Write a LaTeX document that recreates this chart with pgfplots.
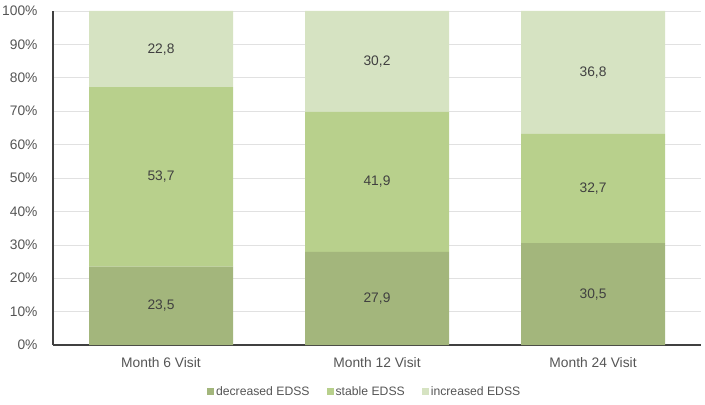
\documentclass[border=0pt]{standalone}
\usepackage{pgfplots}
\pgfplotsset{compat=1.18}
\usepackage{fontspec}
\setmainfont{Liberation Sans}

\definecolor{decr}{RGB}{163,182,124}
\definecolor{stab}{RGB}{184,208,140}
\definecolor{incr}{RGB}{214,227,194}
\definecolor{txtgray}{RGB}{85,85,85}
\definecolor{gridgray}{RGB}{225,225,225}
\tikzset{lbl/.style={font=\fontsize{13.8}{15}\selectfont, text=black!75}}

\begin{document}
\begin{tikzpicture}
\begin{axis}[
    scale only axis,
    width=648pt, height=334pt,
    ybar stacked,
    bar width=144pt,
    xmin=-0.5, xmax=2.5,
    ymin=0, ymax=100,
    xtick={0,1,2},
    xticklabels={Month 6 Visit, Month 12 Visit, Month 24 Visit},
    ytick={0,10,...,100},
    yticklabel={\pgfmathprintnumber{\tick}\%},
    axis lines*=left,
    axis line style={draw=black!75, line width=1.3pt},
    ymajorgrids,
    grid style={gridgray, line width=0.6pt},
    major tick length=0pt,
    tick label style={font=\fontsize{13.8}{15}\selectfont, text=txtgray},
    /pgf/number format/assume math mode=true,
    yticklabel style={xshift=-12pt},
    xticklabel style={yshift=-9pt},
    legend style={at={(0.481,-0.112)}, anchor=north, legend columns=3, draw=none,
        font=\fontsize{12.2}{14}\selectfont, text=txtgray,
        /tikz/every even column/.append style={column sep=15pt}},
    legend image code/.code={\fill[#1] (0pt,-3.5pt) rectangle (7pt,3.5pt);},
]
\addplot[fill=decr, draw=none] coordinates {(0,23.5) (1,27.9) (2,30.5)};
\addplot[fill=stab, draw=none] coordinates {(0,53.7) (1,41.9) (2,32.7)};
\addplot[fill=incr, draw=none] coordinates {(0,22.8) (1,30.2) (2,36.8)};
\legend{decreased EDSS, stable EDSS, increased EDSS}

% segment centres, labelled after the axis so the bars do not hide them
\coordinate (a1) at (axis cs:0,11.75);
\coordinate (a2) at (axis cs:0,50.35);
\coordinate (a3) at (axis cs:0,88.6);
\coordinate (b1) at (axis cs:1,13.95);
\coordinate (b2) at (axis cs:1,48.85);
\coordinate (b3) at (axis cs:1,84.9);
\coordinate (c1) at (axis cs:2,15.25);
\coordinate (c2) at (axis cs:2,46.85);
\coordinate (c3) at (axis cs:2,81.6);
\end{axis}
\node[lbl] at (a1) {23,5};
\node[lbl] at (a2) {53,7};
\node[lbl] at (a3) {22,8};
\node[lbl] at (b1) {27,9};
\node[lbl] at (b2) {41,9};
\node[lbl] at (b3) {30,2};
\node[lbl] at (c1) {30,5};
\node[lbl] at (c2) {32,7};
\node[lbl] at (c3) {36,8};
\pgfresetboundingbox
\path (current axis.south west) ++(-53pt,-59pt) rectangle (current axis.north east) ++(4pt,11pt);
\end{tikzpicture}
\end{document}
